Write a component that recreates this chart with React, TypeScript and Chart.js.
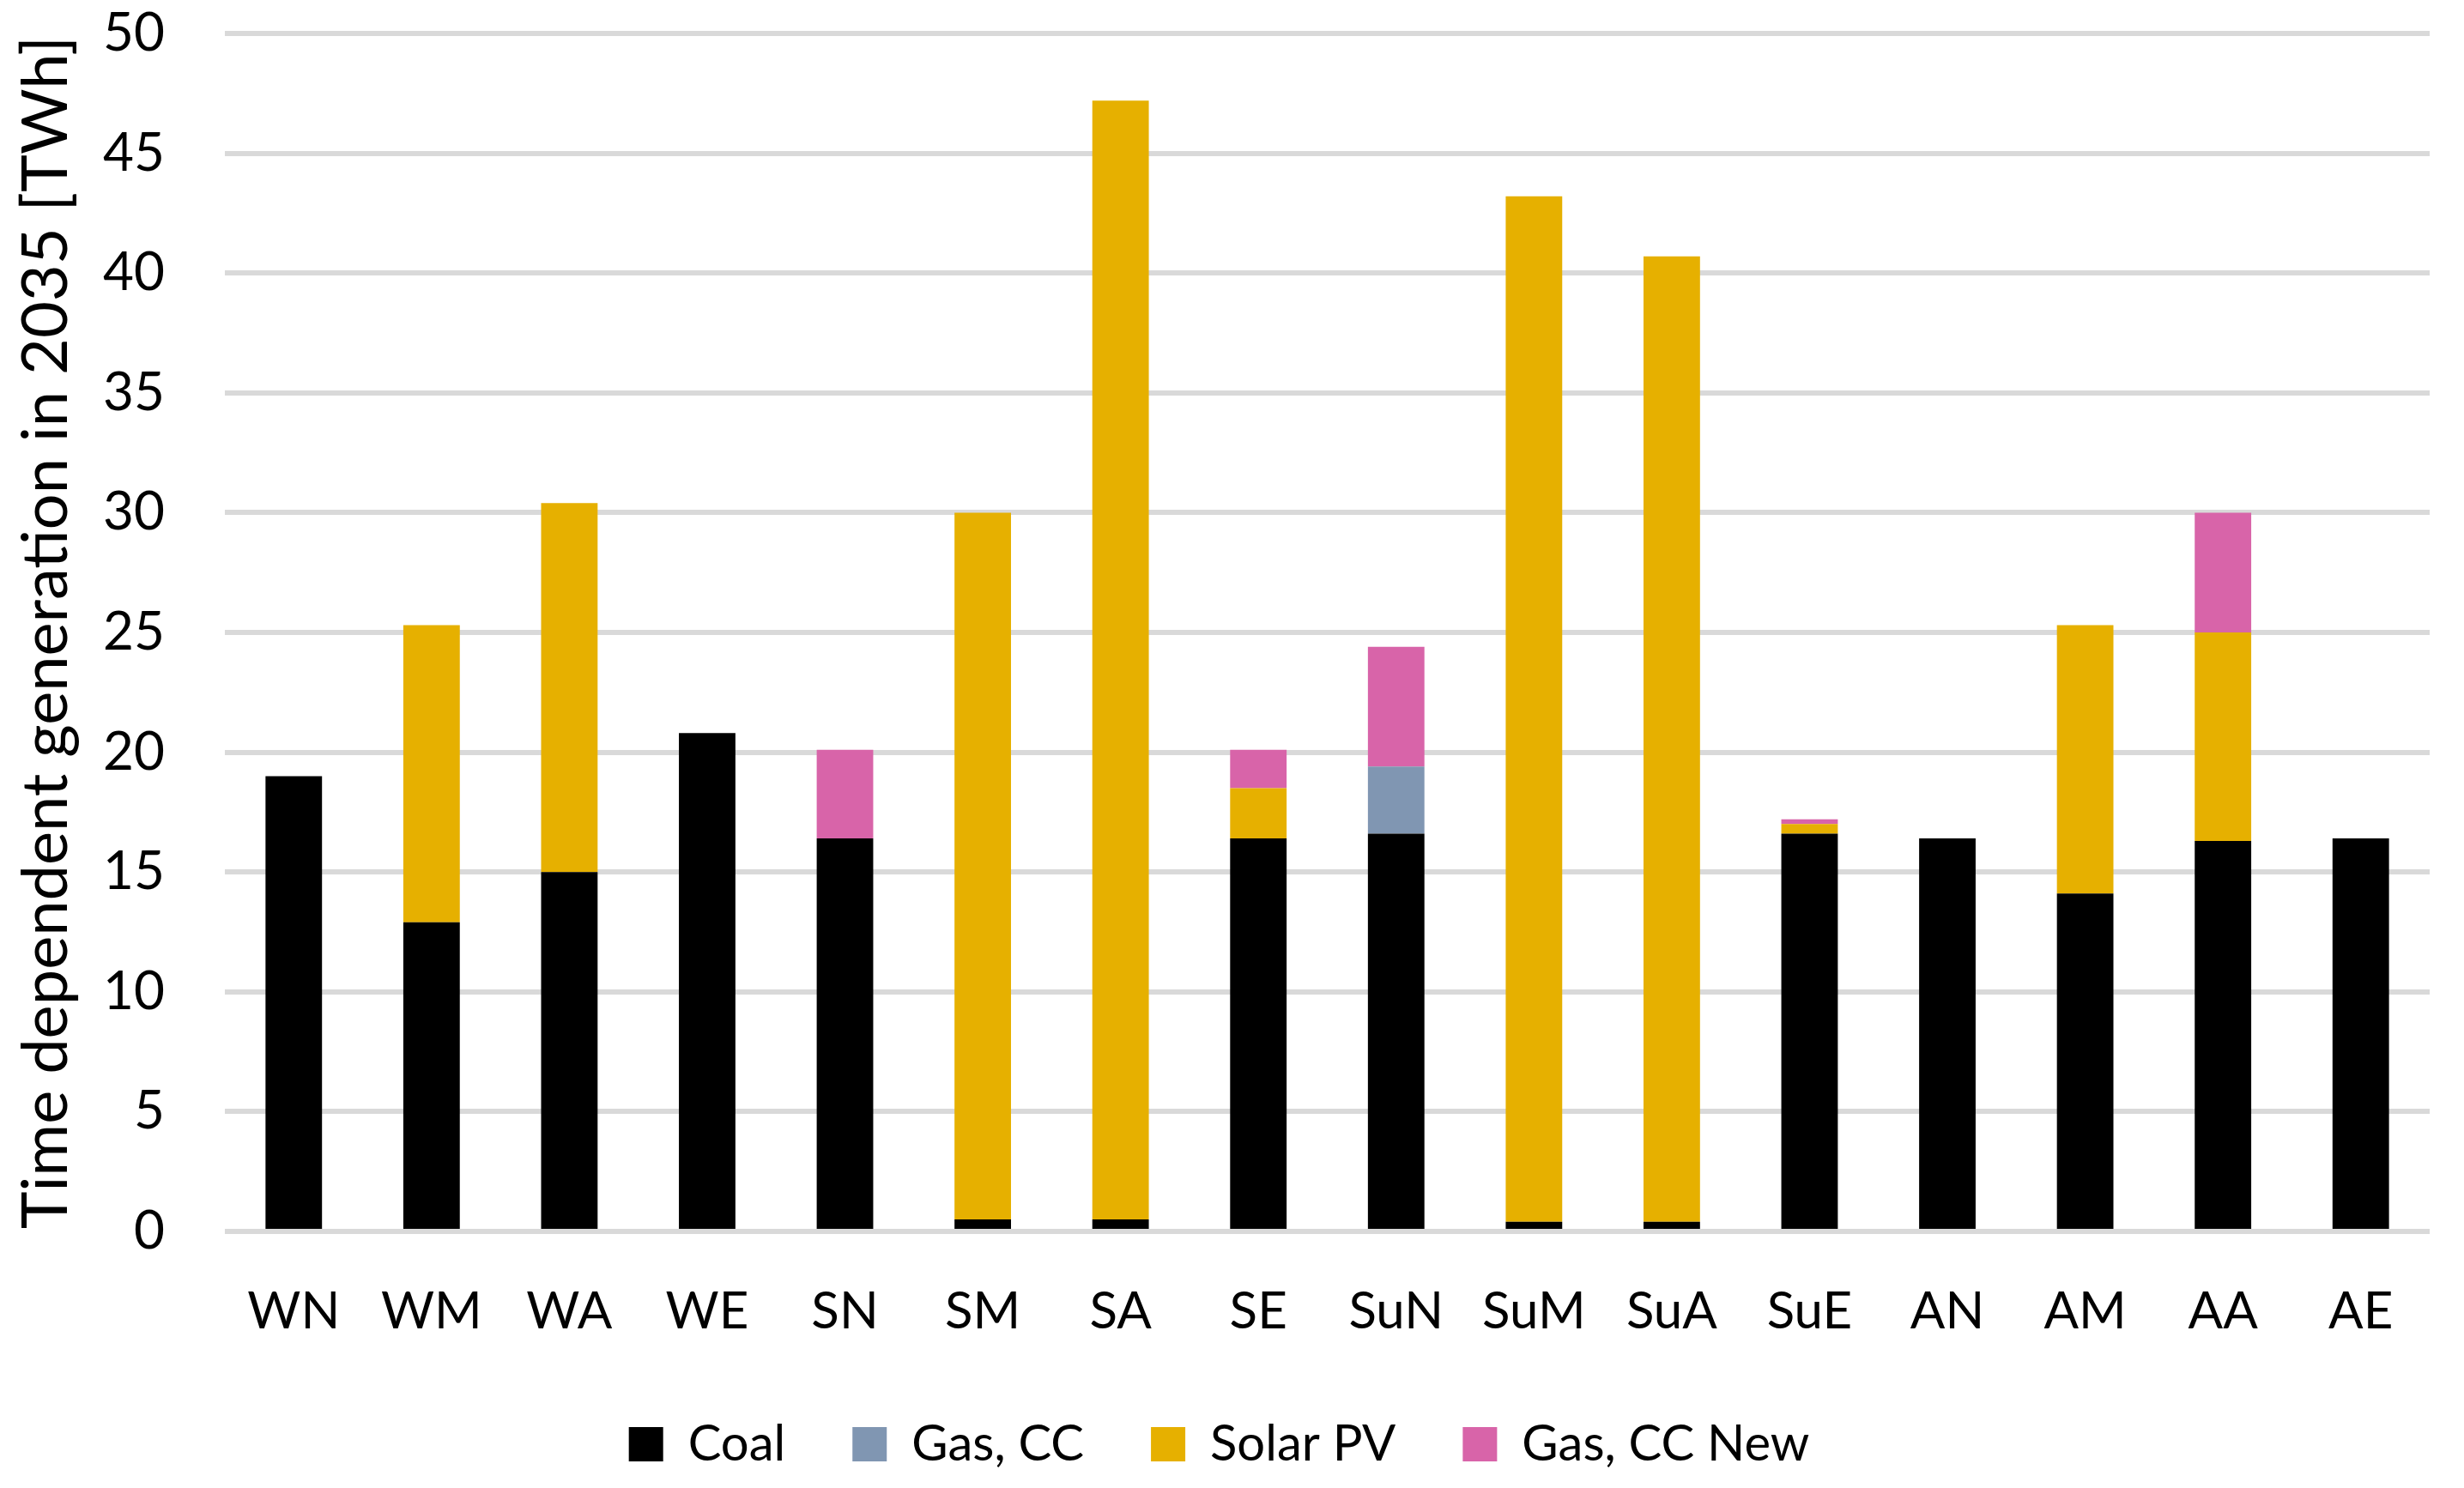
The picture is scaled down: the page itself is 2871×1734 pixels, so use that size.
import React, { useEffect, useRef } from 'react';
import { Chart, registerables } from 'chart.js';

Chart.register(...registerables);

const categories = ['WN', 'WM', 'WA', 'WE', 'SN', 'SM', 'SA', 'SE', 'SuN', 'SuM', 'SuA', 'SuE', 'AN', 'AM', 'AA', 'AE'];

const coal = [19.0, 12.9, 15.0, 20.8, 16.4, 0.5, 0.5, 16.4, 16.6, 0.4, 0.4, 16.6, 16.4, 14.1, 16.3, 16.4];
const gasCC = [0, 0, 0, 0, 0, 0, 0, 0, 2.8, 0, 0, 0, 0, 0, 0, 0];
const solarPV = [0, 12.4, 15.4, 0, 0, 29.5, 46.7, 2.1, 0, 42.8, 40.3, 0.4, 0, 11.2, 8.7, 0];
const gasCCNew = [0, 0, 0, 0, 3.7, 0, 0, 1.6, 5.0, 0, 0, 0.2, 0, 0, 5.0, 0];

const yTicks = [0, 5, 10, 15, 20, 25, 30, 35, 40, 45, 50];

const FONT = 'Lato, "Open Sans", sans-serif';

const App: React.FC = () => {
  const chartRef = useRef<HTMLCanvasElement>(null);
  const chartInstance = useRef<Chart | null>(null);

  useEffect(() => {
    document.body.style.margin = '0';
    if (!chartRef.current) return;
    if (chartInstance.current) {
      chartInstance.current.destroy();
    }
    const ctx = chartRef.current.getContext('2d');
    if (!ctx) return;

    const bar = { barPercentage: 0.41, categoryPercentage: 1.0, borderWidth: 0 };

    chartInstance.current = new Chart(ctx, {
      type: 'bar',
      data: {
        labels: categories,
        datasets: [
          { label: 'Coal', data: coal, backgroundColor: '#000000', ...bar },
          { label: 'Gas, CC', data: gasCC, backgroundColor: '#8096b2', ...bar },
          { label: 'Solar PV', data: solarPV, backgroundColor: '#e6b000', ...bar },
          { label: 'Gas, CC New', data: gasCCNew, backgroundColor: '#d864a9', ...bar },
        ],
      },
      options: {
        responsive: false,
        animation: false,
        devicePixelRatio: 1,
        layout: {
          padding: { top: 39, bottom: 12, left: 10, right: 40 },
        },
        plugins: {
          title: { display: false },
          tooltip: { enabled: false },
          legend: {
            position: 'bottom',
            labels: {
              boxWidth: 40,
              boxHeight: 40,
              padding: 78,
              color: '#000000',
              font: { family: FONT, size: 58 },
            },
          },
        },
        scales: {
          x: {
            stacked: true,
            grid: { display: false, drawTicks: false },
            border: { display: false },
            ticks: {
              color: '#000000',
              padding: 58,
              maxRotation: 0,
              font: { family: FONT, size: 60 },
            },
            afterFit: (scale: any) => {
              scale.height = 141;
            },
          },
          y: {
            stacked: true,
            min: 0,
            max: 50,
            afterBuildTicks: (scale: any) => {
              scale.ticks = yTicks.map(v => ({ value: v }));
            },
            grid: { color: '#d9d9d9', lineWidth: 6, drawTicks: false },
            border: { display: false },
            ticks: {
              color: '#000000',
              padding: 70,
              font: { family: FONT, size: 62 },
            },
            title: {
              display: true,
              text: 'Time dependent generation in 2035 [TWh]',
              color: '#000000',
              padding: { top: 0, bottom: 0 },
              font: { family: FONT, size: 74 },
            },
            afterFit: (scale: any) => {
              scale.width = 252;
              // keep the plot top on the 50 gridline position
              scale.paddingTop = 0;
              scale.paddingBottom = 0;
            },
          },
        },
      },
    });

    return () => {
      if (chartInstance.current) {
        chartInstance.current.destroy();
        chartInstance.current = null;
      }
    };
  }, []);

  return (
    <div style={{ position: 'absolute', left: 0, top: 0, width: '2871px', height: '1734px', background: '#ffffff' }}>
      <canvas ref={chartRef} width={2871} height={1734} style={{ width: '2871px', height: '1734px' }}></canvas>
    </div>
  );
};

export default App;
